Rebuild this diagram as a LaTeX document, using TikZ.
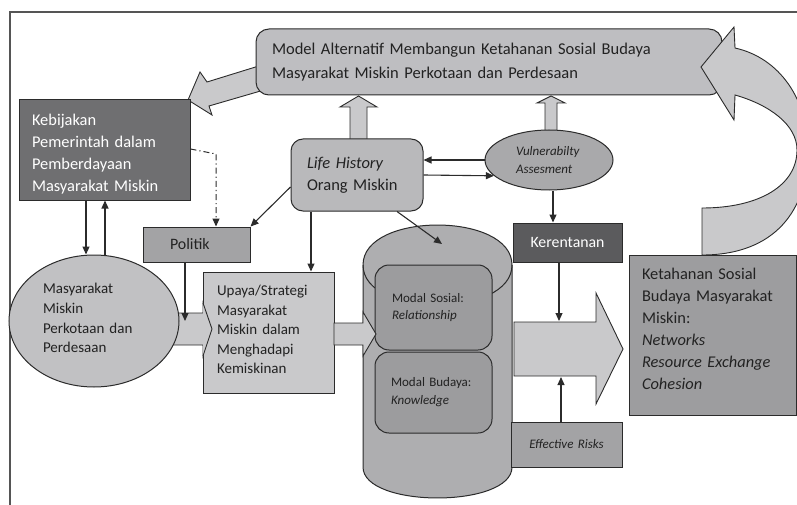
\documentclass[tikz,border=0pt]{standalone}
\usepackage{fontspec}
\setmainfont{Carlito}
\usetikzlibrary{arrows.meta,shapes.geometric,backgrounds}

\definecolor{edge}{HTML}{2B2B2B}
\definecolor{ink}{HTML}{222222}
\definecolor{frameline}{HTML}{555555}
\definecolor{fmodel}{HTML}{BEBEC1}
\definecolor{farrow}{HTML}{C9C9CB}
\definecolor{fkebij}{HTML}{6F6F71}
\definecolor{flife}{HTML}{B9B9BB}
\definecolor{fvul}{HTML}{A9A9AB}
\definecolor{fker}{HTML}{5B5B5D}
\definecolor{fpol}{HTML}{A3A3A5}
\definecolor{fmas}{HTML}{C1C1C3}
\definecolor{fupaya}{HTML}{C9C9CB}
\definecolor{fcyl}{HTML}{AEAEB0}
\definecolor{fmodal}{HTML}{9C9C9E}
\definecolor{feff}{HTML}{A3A3A5}
\definecolor{fket}{HTML}{9D9D9F}

\newcommand\setfs[2]{\fontsize{#1}{#2}\selectfont}

\tikzset{
  box/.style={draw=edge, line width=1pt, inner ysep=0pt, align=left, text=ink},
  oval/.style={ellipse, draw=edge, line width=1pt, inner sep=1pt, align=left, text=ink},
  arr/.style={draw=edge, line width=1.1pt, -{Triangle[length=8pt,width=7pt]}},
  blockarrow/.style={draw=edge, line width=0.9pt, fill=farrow, line join=miter},
}

\begin{document}
\begin{tikzpicture}[x=1pt,y=-1pt]
\useasboundingbox (0,0) rectangle (797,505);

% outer frame (top and left edges)
\draw[frameline, line width=1.4pt] (10,505) -- (10,12) -- (797,12);

% cylinder holding the two capital boxes
\coordinate (cyltop) at (442,244);
\filldraw[draw=edge, line width=1pt, fill=fcyl]
  (363,265) -- (363,467) .. controls (363,508.3) and (512,508.3) .. (512,467)
  -- (512,265) .. controls (512,211.7) and (363,211.7) .. (363,265) -- cycle;
\draw[edge, line width=1pt] (363,265) .. controls (363,318.3) and (512,318.3) .. (512,265);

% boxes
\node[box, fill=fmodel, rounded corners=13pt, minimum width=466pt, minimum height=66pt,
      text width=434pt, inner xsep=16pt, font=\setfs{16.5}{24}] (model) at (489,62)
  {Model Alternatif Membangun Ketahanan Sosial Budaya\\Masyarakat Miskin Perkotaan dan Perdesaan};

\node[box, fill=fkebij, text=white, minimum width=171pt, minimum height=100pt,
      text width=145pt, inner xsep=13pt, font=\setfs{16.4}{22}] (kebij) at (104.5,150)
  {\rule{0pt}{20pt}Kebijakan\\Pemerintah dalam\\Pemberdayaan\\Masyarakat Miskin};

\node[box, fill=flife, rounded corners=12pt, minimum width=132pt, minimum height=72pt,
      text width=100pt, inner xsep=16pt, font=\setfs{16.5}{22}] (lh) at (357,175)
  {\textit{Life History}\\Orang Miskin};

\node[oval, fill=fvul, minimum width=128pt, minimum height=60pt,
      text width=66pt, font=\setfs{13}{18}\itshape] (vul) at (549,160)
  {Vulnerabilty\\Assesment};

\node[box, fill=fker, text=white, minimum width=109pt, minimum height=39pt,
      text width=101pt, inner xsep=4pt, align=center, font=\setfs{15.8}{20}] (ker) at (567.5,242.5)
  {Kerentanan};

\node[box, fill=fpol, minimum width=107pt, minimum height=35pt,
      text width=53pt, inner xsep=27pt, font=\setfs{15.9}{20}] (pol) at (196.5,244.5)
  {Politik};

\node[oval, fill=fmas, minimum width=170pt, minimum height=132pt,
      text width=102pt, font=\setfs{15}{19.7}] (mas) at (94,321)
  {Masyarakat\\Miskin\\Perkotaan dan\\Perdesaan\\[-13.7pt]\mbox{}};

\node[box, fill=fupaya, minimum width=131pt, minimum height=121pt,
      text width=103pt, inner xsep=14pt, font=\setfs{15}{19.5}] (upaya) at (268.5,332.5)
  {Upaya/Strategi\\Masyarakat\\Miskin dalam\\Menghadapi\\Kemiskinan\\[-13.5pt]\mbox{}};

\node[box, fill=fmodal, rounded corners=14pt, minimum width=117pt, minimum height=85pt,
      text width=83pt, inner xsep=17pt, font=\setfs{13}{17.5}] (sosial) at (433.5,307.5)
  {Modal Sosial:\\\textit{Relationship}};

\node[box, fill=fmodal, rounded corners=14pt, minimum width=117pt, minimum height=81pt,
      text width=85pt, inner xsep=16pt, font=\setfs{13}{18}] (budaya) at (433.5,392.5)
  {Modal Budaya:\\\textit{Knowledge}};

\node[box, fill=feff, minimum width=111pt, minimum height=45pt,
      text width=103pt, inner xsep=4pt, align=center, font=\setfs{13}{16}\itshape] (eff) at (566.5,444.5)
  {Effective Risks};

\node[box, fill=fket, minimum width=167pt, minimum height=160pt,
      text width=141pt, inner xsep=13pt, font=\setfs{16.4}{22}] (ket) at (712.5,335)
  {Ketahanan Sosial\\Budaya Masyarakat\\Miskin:\\\textit{Networks}\\\textit{Resource Exchange}\\\textit{Cohesion}\\[-10pt]\mbox{}};

% block arrows that run behind the boxes
\begin{scope}[on background layer]
  \filldraw[blockarrow] (188,100) -- (200,72) -- (207,82) -- (262,65) -- (264,90)
    -- (209,106) -- (212,115) -- cycle;
  \filldraw[blockarrow] (350,145) -- (350,107) -- (340,107) -- (358.5,96) -- (377,107)
    -- (367,107) -- (367,145) -- cycle;
  \filldraw[blockarrow] (545,140) -- (545,103) -- (537,103) -- (551,96) -- (565,103)
    -- (557,103) -- (557,140) -- cycle;
  \filldraw[blockarrow] (150,313) -- (203,313) -- (203,303) -- (212,329) -- (203,356)
    -- (203,345) -- (150,345) -- cycle;
\end{scope}

% head of the arrow into the strategy box
\fill[farrow] (203,303) -- (212,329) -- (203,356) -- cycle;
\draw[edge, line width=0.9pt] (203,303) -- (212,329) -- (203,356);

% strategy box into the cylinder
\filldraw[blockarrow] (334,323) -- (363,323) -- (363,312) -- (376,334) -- (363,356)
  -- (363,345) -- (334,345) -- cycle;

% large arrow towards resilience
\filldraw[blockarrow] (514,322) -- (596,322) -- (596,293) -- (623,349) -- (596,404)
  -- (596,376) -- (514,376) -- cycle;

% curved feedback arrow from resilience back to the model
\filldraw[blockarrow] (702,208) -- (702,255)
  .. controls (775,255) and (808,210) .. (808,150)
  .. controls (808,100) and (780,58) .. (735,48)
  -- (734,27) -- (701,67) -- (734,120) -- (735,95)
  .. controls (770,105) and (797,125) .. (797,150)
  .. controls (797,185) and (760,208) .. (702,208) -- cycle;

% connectors
\draw[arr] (kebij.south -| 86,0) -- (mas.north -| 86,0);
\draw[arr] (mas.north -| 105,0) -- (kebij.south -| 105,0);
\draw[draw=edge, line width=1pt, dash pattern=on 6pt off 3pt on 1.2pt off 3pt,
      -{Triangle[length=8pt,width=7pt]}]
  (kebij.east |- 0,149) -- (216,154) -- (pol.north -| 216,0);
\draw[arr] (lh.west |- 0,187) -- (pol.north east);
\draw[arr] (pol.south -| 185,0) -- (185,321);
\draw[arr] (lh.south -| 311,0) -- (upaya.north -| 311,0);
\draw[arr] (lh.south -| 397,0) -- (cyltop);
\draw[arr] (vul.west) -- (lh.east |- vul.west);
\draw[arr] (lh.east |- 0,175) -- (vul.196);
\draw[arr] (vul.south -| 553,0) -- (ker.north -| 553,0);
\draw[arr] (ker.south -| 559,0) -- (559,321);
\draw[arr] (eff.north -| 561,0) -- (561,377);

\end{tikzpicture}
\end{document}
